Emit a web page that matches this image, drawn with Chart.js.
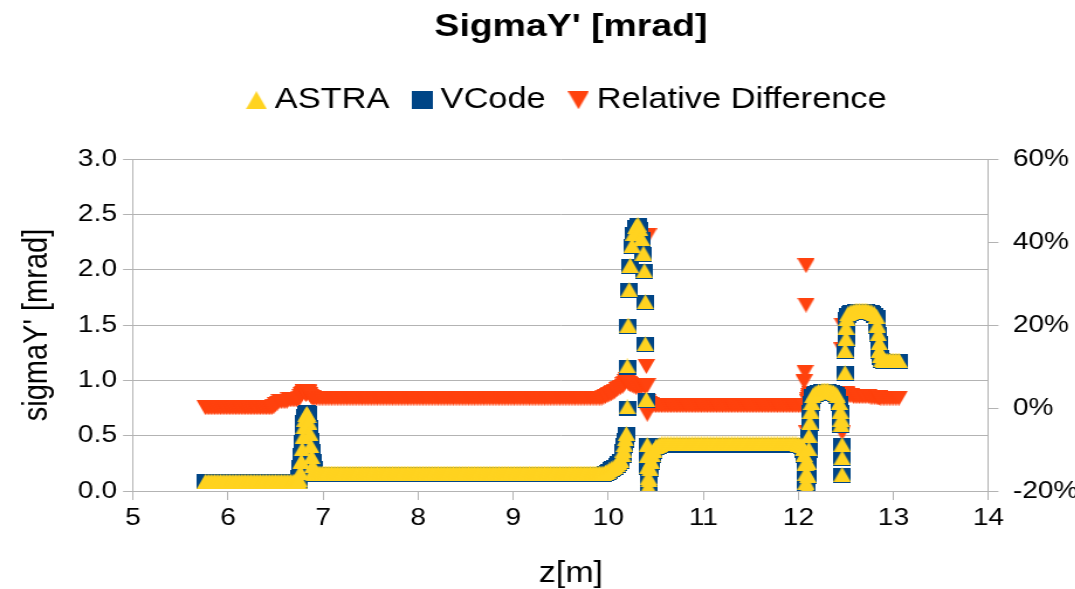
<!DOCTYPE html>
<html>
<head>
<meta charset="utf-8">
<title>SigmaY' [mrad]</title>
<script src="https://cdn.jsdelivr.net/npm/chart.js"></script>
<style>
  html, body { margin: 0; padding: 0; background: #ffffff; overflow: hidden; }
  /* the chart is drawn on a narrower canvas and widened horizontally */
  #frame { width: 976px; height: 589px; transform: scaleX(1.17); transform-origin: 0 0; }
</style>
</head>
<body>
<div id="frame"><canvas id="chart" width="976" height="589"></canvas></div>
<script>
// longitudinal position z [m]
const zPos = [
  5.76,5.78,5.80,5.82,5.84,5.86,5.88,
  5.90,5.92,5.94,5.96,5.98,6.00,6.02,6.04,6.06,6.08,
  6.10,6.12,6.14,6.16,6.18,6.20,6.22,6.24,6.26,6.28,
  6.30,6.32,6.34,6.36,6.38,6.40,6.42,6.44,6.46,6.48,
  6.50,6.52,6.54,6.56,6.58,6.60,6.62,6.64,6.66,6.68,
  6.70,6.72,6.74,
  6.75,6.76,6.77,6.78,6.79,6.80,6.81,6.82,6.83,6.84,
  6.85,6.86,6.87,6.88,6.89,6.90,6.91,
  6.93,6.95,6.97,6.99,7.01,7.03,7.05,7.07,7.09,7.11,
  7.13,7.15,7.17,7.19,7.21,7.23,7.25,7.27,7.29,7.31,
  7.33,7.35,7.37,7.39,7.41,7.43,7.45,7.47,7.49,7.51,
  7.53,7.55,7.57,7.59,7.61,7.63,7.65,7.67,7.69,7.71,
  7.73,7.75,7.77,7.79,7.81,7.83,7.85,7.87,7.89,7.91,
  7.93,7.95,7.97,7.99,8.01,8.03,8.05,8.07,8.09,8.11,
  8.13,8.15,8.17,8.19,8.21,8.23,8.25,8.27,8.29,8.31,
  8.33,8.35,8.37,8.39,8.41,8.43,8.45,8.47,8.49,8.51,
  8.53,8.55,8.57,8.59,8.61,8.63,8.65,8.67,8.69,8.71,
  8.73,8.75,8.77,8.79,8.81,8.83,8.85,8.87,8.89,8.91,
  8.93,8.95,8.97,8.99,9.01,9.03,9.05,9.07,9.09,9.11,
  9.13,9.15,9.17,9.19,9.21,9.23,9.25,9.27,9.29,9.31,
  9.33,9.35,9.37,9.39,9.41,9.43,9.45,9.47,9.49,9.51,
  9.53,9.55,9.57,9.59,9.61,9.63,9.65,9.67,9.69,9.71,
  9.73,9.75,9.77,9.79,9.81,9.83,9.85,9.87,9.89,9.91,
  9.93,9.95,9.97,9.99,10.01,10.03,10.05,10.07,10.09,10.11,
  10.13,
  10.15,10.16,10.17,10.18,10.19,10.20,10.20,10.21,10.22,10.23,
  10.25,10.27,10.29,10.31,10.33,10.35,10.37,10.38,10.39,10.39,
  10.40,10.41,10.41,10.415,10.42,10.42,10.43,10.44,10.45,10.46,
  10.48,10.50,10.52,10.54,
  10.56,10.58,10.60,10.62,10.64,10.66,10.68,10.70,10.72,10.74,
  10.76,10.78,10.80,10.82,10.84,10.86,10.88,10.90,10.92,10.94,
  10.96,10.98,11.00,11.02,11.04,11.06,11.08,11.10,11.12,11.14,
  11.16,11.18,11.20,11.22,11.24,11.26,11.28,11.30,11.32,11.34,
  11.36,11.38,11.40,11.42,11.44,11.46,11.48,11.50,11.52,11.54,
  11.56,11.58,11.60,11.62,11.64,11.66,11.68,11.70,11.72,11.74,
  11.76,11.78,11.80,11.82,11.84,11.86,11.88,11.90,11.92,11.94,
  11.96,11.98,12.00,12.02,
  12.04,12.05,12.06,12.07,12.08,12.08,12.09,12.10,12.10,12.11,
  12.11,12.12,12.13,12.14,12.15,12.17,12.19,12.21,12.23,12.25,
  12.27,12.29,12.31,12.33,12.35,12.37,12.39,12.41,12.43,12.44,
  12.45,12.45,12.46,12.46,12.46,12.49,12.49,12.50,12.50,12.51,
  12.52,12.54,12.56,12.58,12.60,12.62,12.64,12.66,12.68,12.70,
  12.72,12.74,12.76,12.78,12.80,12.82,12.83,12.84,12.85,12.85,
  12.86,12.88,12.90,12.92,12.94,12.96,12.98,13.00,13.02,13.04,
  13.06
];

// ASTRA sigmaY' [mrad]
const astra = [
  0.085,0.085,0.085,0.085,0.085,0.085,0.085,
  0.085,0.085,0.085,0.085,0.085,0.085,0.085,0.085,0.085,0.085,
  0.085,0.085,0.085,0.085,0.085,0.085,0.085,0.085,0.085,0.085,
  0.085,0.085,0.085,0.085,0.085,0.085,0.085,0.085,0.085,0.085,
  0.085,0.085,0.085,0.085,0.085,0.085,0.085,0.085,0.085,0.085,
  0.085,0.085,0.085,
  0.10,0.17,0.27,0.38,0.49,0.58,0.65,0.69,0.70,0.68,
  0.62,0.52,0.41,0.31,0.23,0.18,0.16,
  0.16,0.16,0.16,0.16,0.16,0.16,0.16,0.16,0.16,0.16,
  0.16,0.16,0.16,0.16,0.16,0.16,0.16,0.16,0.16,0.16,
  0.16,0.16,0.16,0.16,0.16,0.16,0.16,0.16,0.16,0.16,
  0.16,0.16,0.16,0.16,0.16,0.16,0.16,0.16,0.16,0.16,
  0.16,0.16,0.16,0.16,0.16,0.16,0.16,0.16,0.16,0.16,
  0.16,0.16,0.16,0.16,0.16,0.16,0.16,0.16,0.16,0.16,
  0.16,0.16,0.16,0.16,0.16,0.16,0.16,0.16,0.16,0.16,
  0.16,0.16,0.16,0.16,0.16,0.16,0.16,0.16,0.16,0.16,
  0.16,0.16,0.16,0.16,0.16,0.16,0.16,0.16,0.16,0.16,
  0.16,0.16,0.16,0.16,0.16,0.16,0.16,0.16,0.16,0.16,
  0.16,0.16,0.16,0.16,0.16,0.16,0.16,0.16,0.16,0.16,
  0.16,0.16,0.16,0.16,0.16,0.16,0.16,0.16,0.16,0.16,
  0.16,0.16,0.16,0.16,0.16,0.16,0.16,0.16,0.16,0.16,
  0.16,0.16,0.16,0.16,0.16,0.16,0.16,0.16,0.16,0.16,
  0.16,0.16,0.16,0.16,0.16,0.16,0.16,0.16,0.16,0.16,
  0.16,0.16,0.17,0.18,0.19,0.20,0.21,0.22,0.24,0.26,
  0.28,
  0.33,0.37,0.42,0.47,0.52,0.76,1.13,1.50,1.82,2.04,
  2.22,2.33,2.39,2.41,2.37,2.28,2.15,1.99,1.71,1.33,
  0.83,0.42,0.32,0.22,0.12,0.04,0.10,0.20,0.27,0.33,
  0.37,0.40,0.41,0.42,
  0.425,0.425,0.425,0.425,0.425,0.425,0.425,0.425,0.425,0.425,
  0.425,0.425,0.425,0.425,0.425,0.425,0.425,0.425,0.425,0.425,
  0.425,0.425,0.425,0.425,0.425,0.425,0.425,0.425,0.425,0.425,
  0.425,0.425,0.425,0.425,0.425,0.425,0.425,0.425,0.425,0.425,
  0.425,0.425,0.425,0.425,0.425,0.425,0.425,0.425,0.425,0.425,
  0.425,0.425,0.425,0.425,0.425,0.425,0.425,0.425,0.425,0.425,
  0.425,0.425,0.425,0.425,0.425,0.425,0.425,0.425,0.425,0.425,
  0.425,0.425,0.42,0.42,
  0.41,0.38,0.33,0.25,0.16,0.08,0.03,0.14,0.26,0.38,
  0.50,0.62,0.72,0.80,0.86,0.88,0.89,0.90,0.90,0.91,
  0.91,0.91,0.91,0.90,0.90,0.89,0.88,0.86,0.80,0.72,
  0.65,0.60,0.42,0.30,0.15,1.07,1.27,1.38,1.48,1.56,
  1.60,1.61,1.62,1.62,1.63,1.63,1.63,1.63,1.63,1.63,
  1.63,1.62,1.62,1.61,1.60,1.58,1.50,1.42,1.34,1.27,
  1.22,1.19,1.18,1.18,1.18,1.18,1.18,1.18,1.18,1.18,
  1.18
];

// VCode sigmaY' [mrad]
const vcode = [
  0.085,0.085,0.085,0.085,0.085,0.085,0.085,
  0.085,0.085,0.085,0.085,0.085,0.085,0.085,0.085,0.085,0.085,
  0.085,0.085,0.085,0.085,0.085,0.085,0.085,0.085,0.085,0.085,
  0.085,0.085,0.085,0.085,0.085,0.085,0.085,0.085,0.085,0.085,
  0.085,0.085,0.085,0.085,0.085,0.085,0.085,0.085,0.085,0.085,
  0.085,0.085,0.085,
  0.12,0.21,0.32,0.44,0.54,0.62,0.67,0.70,0.71,0.70,
  0.66,0.57,0.46,0.36,0.27,0.20,0.15,
  0.15,0.15,0.15,0.15,0.15,0.15,0.15,0.15,0.15,0.15,
  0.15,0.15,0.15,0.15,0.15,0.15,0.15,0.15,0.15,0.15,
  0.15,0.15,0.15,0.15,0.15,0.15,0.15,0.15,0.15,0.15,
  0.15,0.15,0.15,0.15,0.15,0.15,0.15,0.15,0.15,0.15,
  0.15,0.15,0.15,0.15,0.15,0.15,0.15,0.15,0.15,0.15,
  0.15,0.15,0.15,0.15,0.15,0.15,0.15,0.15,0.15,0.15,
  0.15,0.15,0.15,0.15,0.15,0.15,0.15,0.15,0.15,0.15,
  0.15,0.15,0.15,0.15,0.15,0.15,0.15,0.15,0.15,0.15,
  0.15,0.15,0.15,0.15,0.15,0.15,0.15,0.15,0.15,0.15,
  0.15,0.15,0.15,0.15,0.15,0.15,0.15,0.15,0.15,0.15,
  0.15,0.15,0.15,0.15,0.15,0.15,0.15,0.15,0.15,0.15,
  0.15,0.15,0.15,0.15,0.15,0.15,0.15,0.15,0.15,0.15,
  0.15,0.15,0.15,0.15,0.15,0.15,0.15,0.15,0.15,0.15,
  0.15,0.15,0.15,0.15,0.15,0.15,0.15,0.15,0.15,0.15,
  0.15,0.15,0.15,0.15,0.15,0.15,0.15,0.15,0.15,0.15,
  0.15,0.15,0.16,0.17,0.18,0.19,0.20,0.21,0.23,0.25,
  0.27,
  0.32,0.36,0.41,0.46,0.51,0.75,1.12,1.49,1.81,2.03,
  2.21,2.32,2.38,2.40,2.36,2.27,2.14,1.98,1.70,1.32,
  0.82,0.41,0.31,0.21,0.11,0.03,0.09,0.19,0.26,0.32,
  0.36,0.39,0.40,0.415,
  0.415,0.415,0.415,0.415,0.415,0.415,0.415,0.415,0.415,0.415,
  0.415,0.415,0.415,0.415,0.415,0.415,0.415,0.415,0.415,0.415,
  0.415,0.415,0.415,0.415,0.415,0.415,0.415,0.415,0.415,0.415,
  0.415,0.415,0.415,0.415,0.415,0.415,0.415,0.415,0.415,0.415,
  0.415,0.415,0.415,0.415,0.415,0.415,0.415,0.415,0.415,0.415,
  0.415,0.415,0.415,0.415,0.415,0.415,0.415,0.415,0.415,0.415,
  0.415,0.415,0.415,0.415,0.415,0.415,0.415,0.415,0.415,0.415,
  0.415,0.415,0.41,0.41,
  0.40,0.37,0.32,0.24,0.15,0.07,0.02,0.13,0.25,0.37,
  0.49,0.61,0.71,0.79,0.85,0.87,0.88,0.89,0.89,0.90,
  0.90,0.90,0.90,0.89,0.89,0.88,0.87,0.85,0.79,0.71,
  0.64,0.59,0.41,0.29,0.14,1.06,1.26,1.37,1.47,1.55,
  1.59,1.60,1.61,1.61,1.62,1.62,1.62,1.62,1.62,1.62,
  1.62,1.61,1.61,1.60,1.59,1.57,1.49,1.41,1.33,1.26,
  1.21,1.18,1.17,1.17,1.17,1.17,1.17,1.17,1.17,1.17,
  1.17
];

// relative difference between the two codes [%]
const relDiff = [
  0.1,0.1,0.1,0.1,0.1,0.1,0.1,
  0.1,0.1,0.1,0.1,0.1,0.1,0.1,0.1,0.1,0.1,
  0.1,0.1,0.1,0.1,0.1,0.1,0.1,0.1,0.1,0.1,
  0.1,0.1,0.1,0.1,0.1,0.1,0.1,0.1,0.1,0.3,
  0.8,1.2,1.6,1.6,1.6,1.6,1.6,2.0,2.0,2.0,
  2.0,2.0,2.0,
  2.4,2.8,3.2,3.6,3.9,4.0,3.6,3.2,3.6,4.0,
  3.8,3.2,2.8,2.6,2.5,2.4,2.4,
  2.4,2.4,2.4,2.4,2.4,2.4,2.4,2.4,2.4,2.4,
  2.4,2.4,2.4,2.4,2.4,2.4,2.4,2.4,2.4,2.4,
  2.4,2.4,2.4,2.4,2.4,2.4,2.4,2.4,2.4,2.4,
  2.4,2.4,2.4,2.4,2.4,2.4,2.4,2.4,2.4,2.4,
  2.4,2.4,2.4,2.4,2.4,2.4,2.4,2.4,2.4,2.4,
  2.4,2.4,2.4,2.4,2.4,2.4,2.4,2.4,2.4,2.4,
  2.4,2.4,2.4,2.4,2.4,2.4,2.4,2.4,2.4,2.4,
  2.4,2.4,2.4,2.4,2.4,2.4,2.4,2.4,2.4,2.4,
  2.4,2.4,2.4,2.4,2.4,2.4,2.4,2.4,2.4,2.4,
  2.4,2.4,2.4,2.4,2.4,2.4,2.4,2.4,2.4,2.4,
  2.4,2.4,2.4,2.4,2.4,2.4,2.4,2.4,2.4,2.4,
  2.4,2.4,2.4,2.4,2.4,2.4,2.4,2.4,2.4,2.4,
  2.4,2.4,2.4,2.4,2.4,2.4,2.4,2.4,2.4,2.4,
  2.4,2.4,2.4,2.4,2.4,2.4,2.4,2.4,2.4,2.4,
  2.4,2.4,2.4,2.4,2.4,2.4,2.4,2.4,2.4,2.4,
  2.4,2.6,2.8,3.0,3.2,3.4,3.7,4.0,4.4,4.8,
  5.0,
  5.2,5.6,6.0,6.4,6.8,6.6,6.3,6.0,5.8,5.6,
  5.4,5.2,5.0,5.0,5.0,5.2,5.4,5.4,5.3,5.3,
  10.0,5.4,-1.5,1.5,41.5,1.0,1.0,0.8,0.8,0.7,
  0.7,0.6,0.6,0.6,
  0.6,0.6,0.6,0.6,0.6,0.6,0.6,0.6,0.6,0.6,
  0.6,0.6,0.6,0.6,0.6,0.6,0.6,0.6,0.6,0.6,
  0.6,0.6,0.6,0.6,0.6,0.6,0.6,0.6,0.6,0.6,
  0.6,0.6,0.6,0.6,0.6,0.6,0.6,0.6,0.6,0.6,
  0.6,0.6,0.6,0.6,0.6,0.6,0.6,0.6,0.6,0.6,
  0.6,0.6,0.6,0.6,0.6,0.6,0.6,0.6,0.6,0.6,
  0.6,0.6,0.6,0.6,0.6,0.6,0.6,0.6,0.6,0.6,
  0.6,0.6,0.6,0.6,
  0.6,0.7,6.3,8.6,34.3,24.8,-6.0,1.5,2.0,2.5,
  3.0,3.5,3.5,3.5,3.5,3.5,3.5,3.5,3.5,3.5,
  3.5,3.5,3.5,3.5,3.5,3.5,3.5,3.0,2.5,2.0,
  2.0,2.0,20.0,14.0,-6.0,3.0,3.4,3.4,3.2,3.0,
  3.0,3.0,3.0,2.8,2.8,2.8,2.8,2.8,2.8,2.8,
  2.8,2.8,2.6,2.6,2.6,2.6,2.6,2.6,2.5,2.5,
  2.4,2.4,2.4,2.4,2.4,2.4,2.4,2.4,2.4,2.4,
  2.4
];

const seriesNames = ['ASTRA', 'VCode', 'Relative Difference'];
const seriesColors = ['#ffd320', '#004586', '#ff420e'];

const FONT = "'Liberation Sans', Arial, Helvetica, sans-serif";
const GRID = '#b3b3b3';
const CANVAS_W = 976;
const PLOT_LEFT = 113.68;
const PLOT_RIGHT = 844.87;
const BOTTOM_BAND = 98;     // space below the plot area
const X_TITLE_BAND = 40;    // part of it used by the z[m] caption

// filled marker symbols: up triangle, square, down triangle
function symbol(shape, w, h, color) {
  const c = document.createElement('canvas');
  c.width = w; c.height = h;
  const g = c.getContext('2d');
  g.fillStyle = color;
  g.beginPath();
  if (shape === 'up') { g.moveTo(w / 2, 0); g.lineTo(w, h); g.lineTo(0, h); }
  else if (shape === 'down') { g.moveTo(0, 0); g.lineTo(w, 0); g.lineTo(w / 2, h); }
  else { g.rect(0, 0, w, h); }
  g.closePath();
  g.fill();
  return c;
}

const shapes = ['up', 'square', 'down'];
const plotSymbols = shapes.map((s, i) => symbol(s, 15, 15, seriesColors[i]));
const legendSymbols = shapes.map((s, i) => symbol(s, 18, 18, seriesColors[i]));

const toPoints = (vals) => zPos.map((z, i) => ({ x: z, y: vals[i] }));

function series(i, vals, axis) {
  return {
    label: seriesNames[i],
    data: toPoints(vals),
    xAxisID: 'x',
    yAxisID: axis,
    showLine: false,
    pointStyle: plotSymbols[i],
    pointRadius: 7.5,
    pointHoverRadius: 7.5,
    pointBorderWidth: 0,
    backgroundColor: seriesColors[i],
    borderColor: seriesColors[i],
    clip: { left: 20, right: 20, top: 20, bottom: 0 }
  };
}

new Chart(document.getElementById('chart'), {
  type: 'scatter',
  data: {
    datasets: [
      series(0, astra, 'y'),
      series(1, vcode, 'y'),
      series(2, relDiff, 'y2')
    ]
  },
  options: {
    responsive: false,
    animation: false,
    devicePixelRatio: 1,
    events: [],
    layout: { padding: 0 },
    plugins: {
      tooltip: { enabled: false },
      title: {
        display: true,
        text: "SigmaY' [mrad]",
        color: '#000',
        font: { family: FONT, size: 32, weight: 'bold', lineHeight: 1.2 },
        padding: { top: 7.8, bottom: 12.3 }
      },
      subtitle: {
        display: true,
        text: '',
        weight: 500,
        font: { family: FONT, size: 34.1, lineHeight: 1 },
        padding: 0
      },
      legend: {
        display: true,
        position: 'top',
        labels: {
          usePointStyle: true,
          boxWidth: 2,
          padding: 27,
          color: '#000',
          font: { family: FONT, size: 29.4 },
          generateLabels(chart) {
            const items = Chart.defaults.plugins.legend.labels.generateLabels(chart);
            items.forEach((it, i) => { it.pointStyle = legendSymbols[i]; it.fontColor = '#000'; });
            return items;
          }
        }
      }
    },
    scales: {
      x: {
        type: 'linear',
        position: 'bottom',
        weight: 0,
        min: 5, max: 14,
        afterFit(s) { s.height = BOTTOM_BAND - X_TITLE_BAND; },
        grid: { drawOnChartArea: false, color: GRID, tickLength: 9 },
        border: { color: GRID },
        ticks: { stepSize: 1, color: '#000', padding: 3.6, font: { family: FONT, size: 24 } }
      },
      // full-width caption row under the z axis
      xCaption: {
        type: 'linear',
        position: 'bottom',
        fullSize: true,
        weight: 1,
        min: 0, max: 1,
        afterFit(s) { s.height = X_TITLE_BAND; },
        grid: { display: false },
        border: { display: false },
        ticks: { display: false },
        title: {
          display: true, text: 'z[m]', color: '#000',
          font: { family: FONT, size: 29, lineHeight: 1 },
          padding: { top: 0, bottom: 0.5 }
        }
      },
      y: {
        type: 'linear',
        position: 'left',
        min: 0, max: 3,
        afterFit(s) { s.width = PLOT_LEFT; },
        grid: { color: GRID, tickLength: 8.5 },
        border: { color: GRID },
        ticks: {
          stepSize: 0.5, color: '#000', padding: 5.2,
          font: { family: FONT, size: 24 },
          callback: (v) => Number(v).toFixed(1)
        },
        title: {
          display: true, text: "sigmaY' [mrad]", color: '#000',
          font: { family: FONT, size: 29, lineHeight: 1 },
          padding: { top: 17.1, bottom: 0 }
        }
      },
      y2: {
        type: 'linear',
        position: 'right',
        min: -20, max: 60,
        afterFit(s) { s.width = CANVAS_W - PLOT_RIGHT; },
        grid: { drawOnChartArea: false, color: GRID, tickLength: 8.5 },
        border: { color: GRID },
        ticks: {
          stepSize: 20, color: '#000', padding: 12.3,
          font: { family: FONT, size: 24 },
          callback: (v) => v + '%'
        }
      }
    }
  }
});
</script>
</body>
</html>
